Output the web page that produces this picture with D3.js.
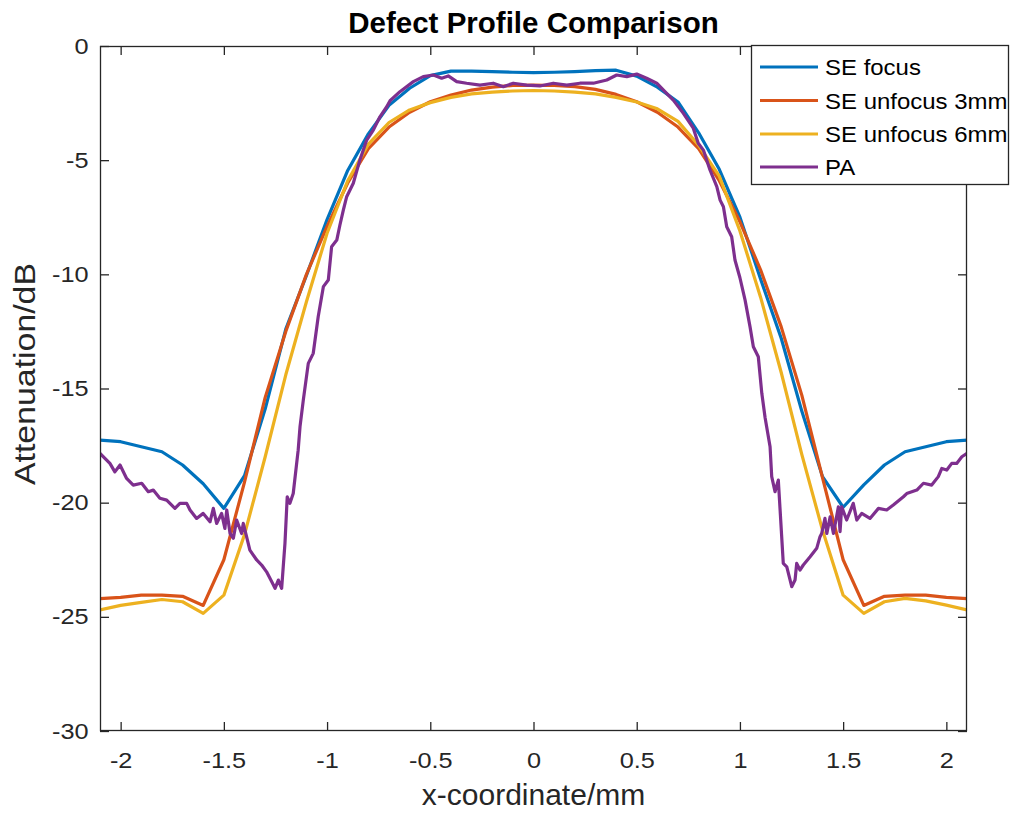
<!DOCTYPE html>
<html>
<head>
<meta charset="utf-8">
<script src="https://cdn.jsdelivr.net/npm/d3@7"></script>
<style>
  html, body { margin: 0; padding: 0; background: #fff; }
  svg { display: block; font-family: "Liberation Sans", Arial, Helvetica, sans-serif; }
</style>
</head>
<body>
<svg id="chart" width="1010" height="813"></svg>
<script>
// Single-element (SE) transducer profiles, sampled every 0.1 mm
const seX = [-2.1, -2.0, -1.9, -1.8, -1.7, -1.6, -1.5, -1.4, -1.3, -1.2, -1.1, -1.0, -0.9, -0.8, -0.7, -0.6, -0.5, -0.4, -0.3, -0.2, -0.1,
             0.0, 0.1, 0.2, 0.3, 0.4, 0.5, 0.6, 0.7, 0.8, 0.9, 1.0, 1.1, 1.2, 1.3, 1.4, 1.5, 1.6, 1.7, 1.8, 1.9, 2.0, 2.1];

const seFocus = [-17.26, -17.33, -17.55, -17.77, -18.35, -19.17, -20.25, -18.82, -15.9, -12.4, -10.05, -7.6, -5.45, -3.85, -2.6, -1.85, -1.3, -1.1, -1.1, -1.12, -1.15,
                 -1.17, -1.15, -1.12, -1.08, -1.06, -1.32, -1.8, -2.45, -3.8, -5.4, -7.5, -10.2, -12.8, -16.0, -18.86, -20.2, -19.22, -18.35, -17.77, -17.55, -17.33, -17.26];

const seUnfocus3 = [-24.2, -24.15, -24.05, -24.05, -24.1, -24.5, -22.5, -19.1, -15.4, -12.5, -10.0, -7.9, -6.0, -4.5, -3.55, -2.9, -2.44, -2.15, -1.93, -1.8, -1.73,
                    -1.71, -1.73, -1.78, -1.9, -2.12, -2.44, -2.9, -3.55, -4.5, -5.9, -7.7, -9.8, -12.3, -15.3, -18.9, -22.5, -24.5, -24.1, -24.05, -24.05, -24.15, -24.2];

const seUnfocus6 = [-24.7, -24.5, -24.37, -24.24, -24.34, -24.85, -24.05, -21.4, -18.0, -14.4, -11.2, -8.2, -5.9, -4.3, -3.35, -2.8, -2.48, -2.25, -2.1, -2.02, -1.97,
                    -1.95, -1.97, -2.02, -2.1, -2.25, -2.45, -2.75, -3.3, -4.35, -5.7, -8.1, -11.0, -14.3, -17.9, -21.2, -24.05, -24.85, -24.34, -24.19, -24.3, -24.49, -24.7];

// Phased-array (PA) profile
const paX = [-2.100, -2.052, -2.028, -2.003, -1.971, -1.939, -1.898, -1.866, -1.842, -1.810, -1.777, -1.737, -1.713, -1.680, -1.664, -1.632,
             -1.600, -1.567, -1.551, -1.535, -1.511, -1.495, -1.486, -1.470, -1.454, -1.438, -1.414, -1.406, -1.390, -1.374, -1.341, -1.317,
             -1.293, -1.268, -1.252, -1.236, -1.220, -1.204, -1.193, -1.180, -1.164, -1.140, -1.131, -1.115, -1.091, -1.067, -1.043, -1.018,
             -0.994, -0.978, -0.953, -0.938, -0.921, -0.905, -0.873, -0.841, -0.808, -0.776, -0.744, -0.711, -0.695, -0.647, -0.582, -0.534,
             -0.485, -0.445, -0.413, -0.372, -0.324, -0.259, -0.195, -0.146, -0.098, -0.033, 0.031, 0.096, 0.161, 0.225, 0.290, 0.355,
             0.403, 0.452, 0.500, 0.548, 0.597, 0.645, 0.677, 0.726, 0.774, 0.798, 0.823, 0.855, 0.888, 0.904, 0.920, 0.936,
             0.960, 0.976, 1.000, 1.025, 1.049, 1.065, 1.089, 1.106, 1.122, 1.146, 1.154, 1.170, 1.186, 1.210, 1.227, 1.251,
             1.267, 1.275, 1.291, 1.307, 1.340, 1.372, 1.388, 1.396, 1.412, 1.421, 1.437, 1.453, 1.477, 1.485, 1.493, 1.517,
             1.549, 1.566, 1.590, 1.630, 1.671, 1.711, 1.743, 1.792, 1.808, 1.857, 1.889, 1.929, 1.961, 1.978, 2.002, 2.026,
             2.050, 2.075, 2.100];

const paY = [-17.84, -18.28, -18.65, -18.35, -18.94, -19.23, -19.15, -19.52, -19.45, -19.81, -19.89, -20.25, -20.03, -20.03, -20.32, -20.69,
             -20.47, -20.84, -20.25, -20.91, -20.47, -21.13, -20.32, -21.35, -21.56, -20.76, -21.35, -20.91, -21.49, -22.08, -22.51, -22.73,
             -23.03, -23.46, -23.75, -23.39, -23.75, -21.78, -19.74, -20.03, -19.60, -17.70, -16.67, -15.50, -13.90, -13.46, -11.86, -10.54,
             -10.25, -8.79, -8.50, -7.85, -7.18, -6.60, -6.01, -4.99, -4.12, -3.68, -3.10, -2.66, -2.40, -2.00, -1.56, -1.34,
             -1.27, -1.41, -1.31, -1.56, -1.63, -1.71, -1.63, -1.78, -1.63, -1.71, -1.75, -1.63, -1.71, -1.63, -1.63, -1.49,
             -1.27, -1.34, -1.23, -1.41, -1.63, -2.07, -2.37, -2.95, -3.60, -4.26, -4.56, -5.43, -6.16, -6.75, -7.04, -7.92,
             -8.35, -9.37, -10.15, -11.13, -12.30, -13.17, -13.61, -15.21, -16.28, -17.55, -18.86, -19.52, -19.01, -22.66, -22.81, -23.68,
             -23.39, -22.66, -22.95, -22.73, -22.37, -22.00, -21.49, -21.35, -20.69, -21.35, -20.62, -21.35, -20.18, -21.27, -20.18, -20.76,
             -20.03, -20.76, -20.47, -20.69, -20.25, -20.32, -20.10, -19.74, -19.60, -19.45, -19.15, -19.23, -18.86, -18.50, -18.57, -18.28,
             -18.28, -17.99, -17.84];

const seriesNames = ["SE focus", "SE unfocus 3mm", "SE unfocus 6mm", "PA"];
const seriesColors = ["#0072BD", "#D95319", "#EDB120", "#7E2F8E"];

const xTicks = [-2, -1.5, -1, -0.5, 0, 0.5, 1, 1.5, 2];
const yTicks = [0, -5, -10, -15, -20, -25, -30];

const titleText = "Defect Profile Comparison";
const xLabel = "x-coordinate/mm";
const yLabel = "Attenuation/dB";

// ---- layout ----
const plot = { left: 100, right: 967, top: 46, bottom: 731 };
const axisColor = "#262626";

const svg = d3.select("#chart");

const x = d3.scaleLinear().domain([-2.1, 2.1]).range([plot.left, plot.right]);
const y = d3.scaleLinear().domain([-30, 0]).range([plot.bottom, plot.top]);

// ---- axes (ticks point inward on all four sides) ----
const tickLen = 9;
const fmt = d => String(d);

const gBottom = svg.append("g")
  .attr("transform", `translate(0,${plot.bottom})`)
  .call(d3.axisBottom(x).tickValues(xTicks).tickSize(-tickLen).tickPadding(21).tickFormat(fmt));
const gTop = svg.append("g")
  .attr("transform", `translate(0,${plot.top})`)
  .call(d3.axisTop(x).tickValues(xTicks).tickSize(-tickLen).tickFormat(""));
const gLeft = svg.append("g")
  .attr("transform", `translate(${plot.left},0)`)
  .call(d3.axisLeft(y).tickValues(yTicks).tickSize(-tickLen).tickPadding(10).tickFormat(fmt));
const gRight = svg.append("g")
  .attr("transform", `translate(${plot.right},0)`)
  .call(d3.axisRight(y).tickValues(yTicks).tickSize(-tickLen).tickFormat(""));

[gBottom, gTop, gLeft, gRight].forEach(g => {
  g.select(".domain").remove();
  g.selectAll(".tick line").attr("stroke", axisColor).attr("stroke-width", 1.3);
  g.selectAll(".tick text")
    .attr("fill", axisColor)
    .attr("font-size", 22)
    .attr("font-family", "'Liberation Sans', Arial, sans-serif")
    .attr("transform", "scale(1.15,1)");
});

// ---- data lines ----
const line = d3.line().x(d => x(d[0])).y(d => y(d[1]));
const seriesData = [
  d3.zip(seX, seFocus),
  d3.zip(seX, seUnfocus3),
  d3.zip(seX, seUnfocus6),
  d3.zip(paX, paY)
];

svg.append("clipPath").attr("id", "plotClip")
  .append("rect")
  .attr("x", plot.left).attr("y", plot.top)
  .attr("width", plot.right - plot.left).attr("height", plot.bottom - plot.top);

const gLines = svg.append("g").attr("clip-path", "url(#plotClip)");
seriesData.forEach((data, i) => {
  gLines.append("path")
    .datum(data)
    .attr("fill", "none")
    .attr("stroke", seriesColors[i])
    .attr("stroke-width", 3.2)
    .attr("stroke-linejoin", "round")
    .attr("d", line);
});

// ---- axes box ----
svg.append("rect")
  .attr("x", plot.left + 0.5).attr("y", plot.top + 0.5)
  .attr("width", plot.right - plot.left - 1).attr("height", plot.bottom - plot.top - 1)
  .attr("fill", "none")
  .attr("stroke", axisColor)
  .attr("stroke-width", 1.3);

// ---- title & axis labels ----
svg.append("text")
  .attr("x", (plot.left + plot.right) / 2).attr("y", 33)
  .attr("text-anchor", "middle")
  .attr("font-size", 29.5).attr("font-weight", "bold")
  .attr("fill", "#000")
  .text(titleText);

svg.append("text")
  .attr("x", (plot.left + plot.right) / 2).attr("y", 805)
  .attr("text-anchor", "middle")
  .attr("font-size", 30)
  .attr("fill", axisColor)
  .text(xLabel);

svg.append("text")
  .attr("transform", `translate(35,374) rotate(-90)`)
  .attr("text-anchor", "middle")
  .attr("font-size", 30)
  .attr("fill", axisColor)
  .attr("textLength", 222)
  .attr("lengthAdjust", "spacingAndGlyphs")
  .text(yLabel);

// ---- legend ----
const legend = { x: 751, y: 45, w: 258, h: 139, rowY: [67, 100.5, 134, 167] };
const gLegend = svg.append("g");
gLegend.append("rect")
  .attr("x", legend.x + 0.5).attr("y", legend.y + 0.5)
  .attr("width", legend.w - 1).attr("height", legend.h)
  .attr("fill", "#fff")
  .attr("stroke", axisColor)
  .attr("stroke-width", 1.3);

seriesNames.forEach((name, i) => {
  const cy = legend.rowY[i];
  gLegend.append("line")
    .attr("x1", 760).attr("x2", 818)
    .attr("y1", cy).attr("y2", cy)
    .attr("stroke", seriesColors[i])
    .attr("stroke-width", 3.2);
  gLegend.append("text")
    .attr("transform", `translate(825,${cy + 8}) scale(1.09,1)`)
    .attr("font-size", 22)
    .attr("fill", "#000")
    .text(name);
});
</script>
</body>
</html>
